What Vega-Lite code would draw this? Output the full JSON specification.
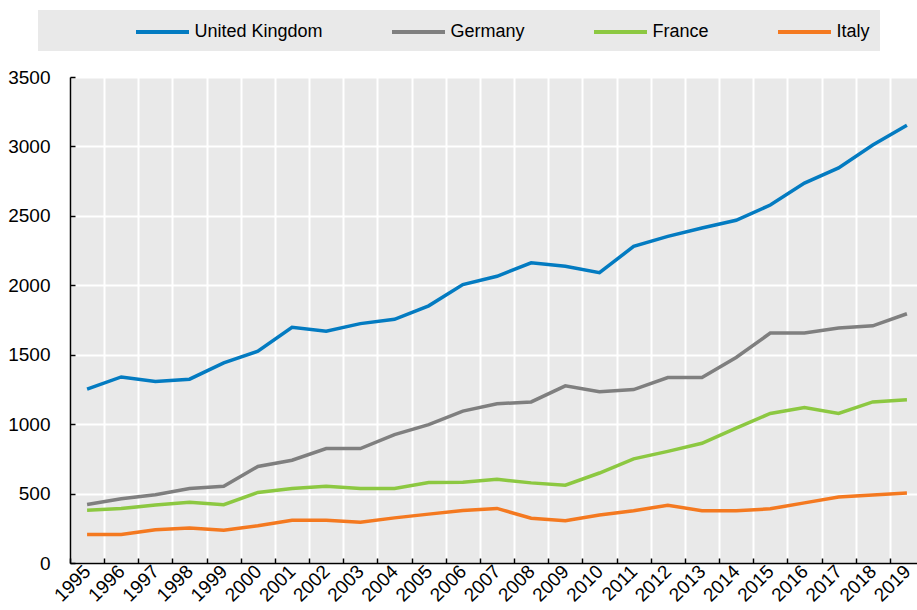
{
  "$schema": "https://vega.github.io/schema/vega-lite/v6.json",
  "autosize": {"type": "none"},
  "width": 854,
  "height": 486,
  "padding": {"left": 70, "top": 77, "right": 0, "bottom": 47},
  "background": "white",
  "config": {
    "view": {"fill": "#e9e9e9", "stroke": null},
    "font": "Liberation Sans",
    "axis": {"labelFont": "Liberation Sans", "labelFontSize": 19, "labelColor": "#000000", "titleFont": "Liberation Sans"},
    "legend": {"labelFont": "Liberation Sans", "labelFontSize": 18, "labelColor": "#000000"}
  },
  "data": {
    "values": [
      {"year": "1995", "United Kingdom": 1252, "Germany": 422, "France": 380, "Italy": 206},
      {"year": "1996", "United Kingdom": 1340, "Germany": 463, "France": 392, "Italy": 206},
      {"year": "1997", "United Kingdom": 1308, "Germany": 492, "France": 417, "Italy": 240},
      {"year": "1998", "United Kingdom": 1324, "Germany": 537, "France": 437, "Italy": 252},
      {"year": "1999", "United Kingdom": 1441, "Germany": 552, "France": 420, "Italy": 236},
      {"year": "2000", "United Kingdom": 1525, "Germany": 695, "France": 508, "Italy": 268},
      {"year": "2001", "United Kingdom": 1698, "Germany": 740, "France": 537, "Italy": 307},
      {"year": "2002", "United Kingdom": 1669, "Germany": 824, "France": 552, "Italy": 307},
      {"year": "2003", "United Kingdom": 1724, "Germany": 824, "France": 537, "Italy": 293},
      {"year": "2004", "United Kingdom": 1755, "Germany": 925, "France": 537, "Italy": 325},
      {"year": "2005", "United Kingdom": 1852, "Germany": 997, "France": 580, "Italy": 352},
      {"year": "2006", "United Kingdom": 2005, "Germany": 1094, "France": 581, "Italy": 378},
      {"year": "2007", "United Kingdom": 2065, "Germany": 1147, "France": 603, "Italy": 393},
      {"year": "2008", "United Kingdom": 2162, "Germany": 1160, "France": 577, "Italy": 322},
      {"year": "2009", "United Kingdom": 2137, "Germany": 1276, "France": 560, "Italy": 305},
      {"year": "2010", "United Kingdom": 2091, "Germany": 1233, "France": 648, "Italy": 345},
      {"year": "2011", "United Kingdom": 2280, "Germany": 1249, "France": 750, "Italy": 376},
      {"year": "2012", "United Kingdom": 2352, "Germany": 1336, "France": 804, "Italy": 416},
      {"year": "2013", "United Kingdom": 2413, "Germany": 1336, "France": 862, "Italy": 377},
      {"year": "2014", "United Kingdom": 2468, "Germany": 1480, "France": 972, "Italy": 377},
      {"year": "2015", "United Kingdom": 2578, "Germany": 1656, "France": 1077, "Italy": 390},
      {"year": "2016", "United Kingdom": 2736, "Germany": 1656, "France": 1120, "Italy": 433},
      {"year": "2017", "United Kingdom": 2845, "Germany": 1692, "France": 1077, "Italy": 476},
      {"year": "2018", "United Kingdom": 3010, "Germany": 1708, "France": 1160, "Italy": 490},
      {"year": "2019", "United Kingdom": 3152, "Germany": 1795, "France": 1175, "Italy": 504}
    ]
  },
  "transform": [
    {"fold": ["United Kingdom", "Germany", "France", "Italy"], "as": ["country", "value"]}
  ],
  "mark": {"type": "line", "strokeWidth": 3.5, "clip": false},
  "encoding": {
    "x": {
      "field": "year",
      "type": "ordinal",
      "scale": {"type": "band", "paddingInner": 0, "paddingOuter": 0},
      "axis": {
        "title": null,
        "labelAngle": -45,
        "labelAlign": "right",
        "labelBaseline": "middle",
        "tickBand": "extent",
        "grid": true,
        "gridColor": "#ffffff",
        "gridWidth": 2,
        "gridOpacity": 1,
        "domainColor": "#000000",
        "domainWidth": 1.5,
        "tickColor": "#000000",
        "tickWidth": 1.5,
        "tickSize": -5,
        "labelPadding": 10
      }
    },
    "y": {
      "field": "value",
      "type": "quantitative",
      "scale": {"domain": [0, 3500], "nice": false, "zero": true},
      "axis": {
        "title": null,
        "values": [0, 500, 1000, 1500, 2000, 2500, 3000, 3500],
        "format": "d",
        "grid": true,
        "gridColor": "#ffffff",
        "gridWidth": 2,
        "gridOpacity": 1,
        "domainColor": "#000000",
        "domainWidth": 1.5,
        "tickColor": "#000000",
        "tickWidth": 1.5,
        "tickSize": -5,
        "labelPadding": 25
      }
    },
    "color": {
      "field": "country",
      "type": "nominal",
      "sort": ["United Kingdom", "Germany", "France", "Italy"],
      "scale": {
        "domain": ["United Kingdom", "Germany", "France", "Italy"],
        "range": ["#037bc1", "#7f7f7f", "#8cc841", "#f47920"]
      },
      "legend": {
        "orient": "none",
        "legendX": -32,
        "legendY": -67,
        "direction": "horizontal",
        "title": " ",
        "titleOrient": "left",
        "titleFontSize": 2,
        "titlePadding": 102.5,
        "fillColor": "#e9e9e9",
        "padding": 10,
        "symbolType": "M-2.65,0H2.65",
        "symbolSize": 400,
        "symbolStrokeWidth": 4,
        "labelOffset": 20,
        "columnPadding": 60,
        "labelLimit": 300
      }
    }
  }
}
